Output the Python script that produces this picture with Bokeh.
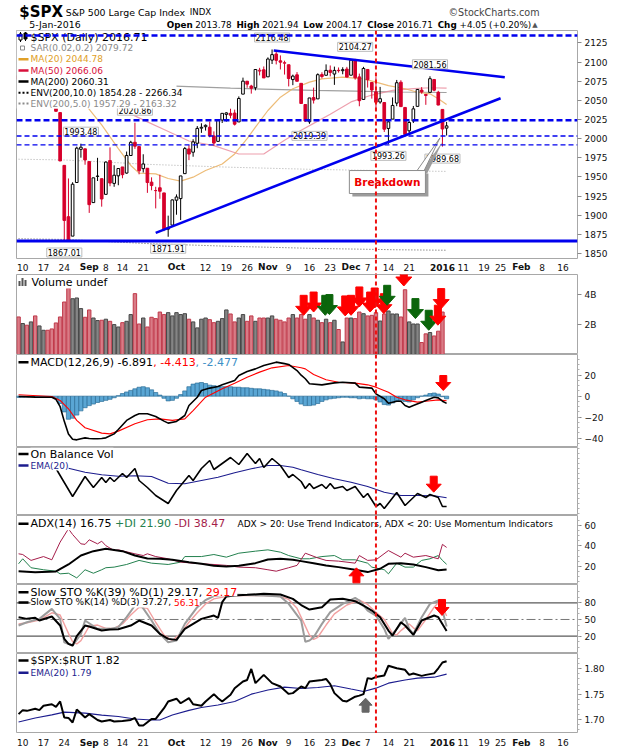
from bokeh.plotting import figure
from bokeh.layouts import column
from bokeh.models import Range1d, FixedTicker, Span, PrintfTickFormatter, ColumnDataSource
from bokeh.embed import file_html
from bokeh.resources import INLINE
from bokeh.core.properties import value

# ---------------------------------------------------------------- data
# trading-day index: 0 = 10-Aug-2015 ... 101 = 4-Jan-2016, 102 = 5-Jan-2016
PREV_CLOSE = 2083.56
day = list(range(-1, 103))
open_ = [2082.61, 2080.98, 2102.66, 2081.10, 2086.19, 2083.15, 2089.70, 2101.99, 2095.69, 2076.61,
         2034.08, 1965.15, 1898.08, 1872.75, 1942.77, 1986.06, 1986.73, 1970.09, 1916.52, 1950.79,
         1947.76, 1927.30, 1971.45, 1941.59, 1951.45, 1963.06, 1955.10, 1978.02, 1995.33, 1989.66,
         1960.84, 1961.39, 1943.24, 1932.24, 1935.93, 1929.18, 1881.90, 1887.14, 1919.65, 1921.77,
         1954.33, 1986.63, 1982.34, 1994.01, 2013.73, 2015.65, 2015.00, 2003.66, 1996.47, 2024.37,
         2031.73, 2033.13, 2033.47, 2021.88, 2058.19, 2075.08, 2068.75, 2066.48, 2088.35, 2090.00,
         2080.76, 2102.63, 2110.60, 2101.68, 2098.60, 2096.56, 2077.19, 2083.41, 2072.29, 2044.64,
         2022.08, 2053.67, 2051.99, 2083.70, 2082.82, 2089.41, 2084.42, 2089.30, 2088.82, 2090.95,
         2082.93, 2101.71, 2080.71, 2051.24, 2090.42, 2073.39, 2061.17, 2047.93, 2047.27, 2013.37,
         2025.55, 2046.50, 2073.76, 2040.81, 2010.27, 2023.15, 2042.20, 2063.52, 2057.77, 2060.54,
         2077.34, 2060.59, 2038.20, 2013.78]
high = [2082.61, 2105.35, 2102.66, 2089.06, 2092.93, 2092.45, 2102.87, 2103.47, 2096.17, 2076.61,
        2034.08, 1965.15, 1948.04, 1943.09, 1989.60, 1993.48, 1986.73, 1970.09, 1948.91, 1975.01,
        1947.76, 1970.42, 1988.63, 1965.29, 1961.05, 1963.06, 1983.19, 1997.26, 2020.86, 1989.66,
        1979.64, 1961.39, 1949.52, 1937.17, 1952.89, 1929.18, 1899.48, 1920.53, 1927.21, 1951.36,
        1989.17, 1991.62, 1999.31, 2016.50, 2020.13, 2018.66, 2022.34, 2009.56, 2024.15, 2033.54,
        2034.45, 2039.12, 2037.97, 2055.20, 2079.74, 2075.14, 2070.37, 2090.35, 2092.52, 2094.32,
        2106.20, 2116.48, 2114.59, 2108.78, 2101.91, 2096.56, 2083.67, 2086.94, 2072.29, 2044.64,
        2053.22, 2066.69, 2085.31, 2086.74, 2097.06, 2095.61, 2094.12, 2093.00, 2093.29, 2093.81,
        2103.37, 2104.27, 2085.00, 2093.84, 2090.42, 2073.85, 2080.33, 2067.65, 2047.27, 2022.92,
        2053.87, 2076.72, 2076.37, 2040.81, 2022.90, 2042.74, 2064.73, 2067.36, 2057.77, 2081.56,
        2077.34, 2062.54, 2038.20, 2021.94]
low = [2067.91, 2080.98, 2076.49, 2052.09, 2078.26, 2080.61, 2079.30, 2094.14, 2070.53, 2035.73,
       1970.89, 1867.01, 1867.08, 1872.75, 1942.77, 1975.19, 1965.98, 1903.07, 1916.52, 1944.72,
       1911.21, 1927.30, 1937.88, 1937.19, 1939.19, 1948.27, 1954.30, 1977.93, 1986.73, 1953.45,
       1955.80, 1929.22, 1932.57, 1908.92, 1921.50, 1879.21, 1871.91, 1887.14, 1900.70, 1893.70,
       1954.33, 1971.99, 1976.44, 1987.53, 2007.61, 2010.55, 2001.78, 1990.73, 1996.47, 2020.46,
       2022.31, 2026.61, 2017.22, 2021.88, 2058.19, 2066.53, 2058.84, 2063.11, 2082.63, 2079.34,
       2080.76, 2097.51, 2096.98, 2090.41, 2083.74, 2068.24, 2069.91, 2074.85, 2045.66, 2022.02,
       2019.39, 2045.90, 2051.99, 2078.76, 2082.82, 2081.39, 2070.29, 2086.30, 2084.13, 2080.41,
       2082.93, 2077.11, 2042.35, 2051.24, 2066.78, 2052.32, 2036.53, 2045.67, 2008.80, 1993.26,
       2025.55, 2042.43, 2041.66, 2005.33, 2005.93, 2020.49, 2042.20, 2058.73, 2044.20, 2060.54,
       2061.97, 2043.62, 1989.68, 2004.17]
close = [2077.57, 2104.18, 2084.07, 2086.05, 2083.39, 2091.54, 2102.44, 2096.92, 2079.61, 2035.73,
         1970.89, 1893.21, 1867.61, 1940.51, 1987.66, 1988.87, 1972.18, 1913.85, 1948.86, 1951.13,
         1921.22, 1969.41, 1942.04, 1952.29, 1961.05, 1953.03, 1978.09, 1995.31, 1990.20, 1958.03,
         1966.97, 1942.74, 1938.76, 1932.24, 1931.34, 1881.77, 1884.09, 1920.03, 1923.82, 1951.36,
         1987.05, 1979.92, 1995.83, 2013.43, 2014.89, 2017.46, 2003.69, 1994.24, 2023.86, 2033.11,
         2033.66, 2030.77, 2018.94, 2052.51, 2075.15, 2071.18, 2065.89, 2090.35, 2089.41, 2079.36,
         2104.05, 2109.79, 2102.31, 2099.93, 2099.20, 2078.58, 2081.72, 2075.00, 2045.97, 2023.04,
         2053.19, 2050.44, 2083.58, 2081.24, 2089.17, 2086.59, 2089.14, 2088.87, 2090.11, 2080.41,
         2102.63, 2079.51, 2049.62, 2091.69, 2077.07, 2063.59, 2047.62, 2052.23, 2012.37, 2021.94,
         2043.41, 2073.07, 2041.89, 2005.55, 2021.15, 2038.97, 2064.29, 2060.99, 2056.50, 2078.36,
         2063.36, 2043.94, 2012.66, 2016.71]

# volume in billions (the 5-Jan value is undefined)
vol_day = list(range(-1, 102))
volume = [2.51, 2.07, 1.96, 2.18, 2.58, 1.91, 1.62, 1.62, 1.71, 2.11,
          2.51, 3.51, 4.44, 3.73, 3.78, 3.07, 2.49, 2.98, 2.44, 2.27,
          2.29, 2.36, 2.22, 2.00, 1.84, 2.13, 2.22, 2.67, 4.07, 2.04,
          2.44, 1.84, 2.49, 2.40, 2.84, 2.67, 2.80, 2.58, 2.80, 2.67,
          2.73, 2.36, 2.18, 1.78, 2.36, 2.44, 2.33, 2.13, 2.22, 2.40,
          2.98, 2.71, 2.18, 2.44, 2.67, 2.22, 2.58, 2.22, 2.44, 2.44,
          2.44, 2.58, 2.36, 2.29, 2.18, 2.44, 2.67,
          2.44, 2.67, 2.36, 2.67, 2.44, 2.29, 2.13, 2.36, 2.13, 2.29,
          1.67, 0.84, 2.44, 2.44, 2.40, 2.84, 2.73, 2.58, 2.62, 2.80,
          2.24, 2.71, 2.91, 2.71, 2.71, 2.51, 4.33, 2.18, 2.04, 2.04,
          0.80, 1.38, 1.47, 1.24, 1.56, 2.84]

ma20_day = [-1, 4, 9, 12, 15, 19, 23, 26, 28, 32, 35, 38, 41, 44, 48, 51, 54, 56, 59, 62, 65, 69,
            72, 77, 82, 85, 88, 92, 95, 98, 100, 102]
ma20_val = [2094, 2090, 2078, 2062, 2045, 2018, 1987, 1965, 1955, 1954, 1948, 1944.5, 1949.7, 1958.4,
            1967, 1980, 2000, 2015, 2036.8, 2054.2, 2065.2, 2073.8, 2078.2, 2080.3, 2078.2, 2073.8,
            2069.4, 2065.2, 2060.7, 2058.6, 2052.1, 2044.8]
ma50_day = [-1, 5, 10, 15, 20, 25, 30, 34, 40, 46, 52, 58, 63, 67, 70, 74, 79, 84, 89, 94, 98, 102]
ma50_val = [2098, 2095, 2090, 2070, 2050, 2035, 2022, 2012, 1997, 1991, 1980, 1980, 1998, 2011, 2020,
            2032, 2048, 2057, 2063, 2065.5, 2066.5, 2066.1]
ma200_day = [-1, 10, 20, 30, 40, 50, 60, 70, 80, 90, 102]
ma200_val = [2077, 2076, 2073, 2070, 2068, 2066, 2064.5, 2063, 2062, 2061, 2060.3]
env5_low = [1973.2, 1972.2, 1969.4, 1966.5, 1964.6, 1962.7, 1961.3, 1959.9, 1958.9, 1958.0, 1957.3]
env10_low = [1869.3, 1868.4, 1865.7, 1863.0, 1861.2, 1859.4, 1858.1, 1856.7, 1855.8, 1854.9, 1854.3]

# drawn annotations on the price chart
h_levels_thick = [2134.7, 2024.0]
h_levels_thin = [2003.5, 1992.0]
support_level = 1866.5
rising_line_day, rising_line_val = [32.0, 115.0], [1877.0, 2052.9]
falling_line_day, falling_line_val = [60.4, 116.0], [2115.2, 2080.3]
high_label_days = [14, 27, 60, 80, 98]
low_label_days = [10, 35, 69, 88, 101]
VLINE_DAY = 85
BD_BOX = [78.6, 96.9, 1928.4, 1958.4]
BD_TIP = [100.4, 2001.0]
BD_BASE = [94.9, 96.6]

macd_day = [-1, 3, 7, 8, 9, 10, 11, 12, 13, 14, 15, 16, 17, 18, 19, 20, 22, 23, 25, 27, 28, 30, 32, 34,
            35, 37, 39, 40, 42, 43, 45, 47, 48, 51, 52, 54, 56, 58, 61, 63, 64, 66, 67, 68, 69, 72, 75,
            77, 80, 81, 84, 85, 87, 88, 90, 91, 92, 93, 94, 96, 97, 99, 100, 101, 102]
macd_val = [-0.3, -0.9, -1.0, -3, -10, -24, -36, -41, -41.6, -40.5, -39.7, -40.3, -40.6, -40.5, -40.3,
            -39.7, -35.9, -31.7, -23.1, -18.4, -16.8, -16.8, -19.4, -23.8, -25.7, -24.1, -18.4, -8.9,
            -1.0, 5.4, 7.7, 9.2, 10.8, 15, 19.7, 23.5, 26, 29.2, 32.4, 31, 30.2, 24.4, 20, 16.6, 11.8,
            10.8, 12.7, 13.3, 12.4, 8.6, 7.7, 2.2, -2.5, -6.7, -4.8, -4.8, -8.9, -10.5, -8.9, -5.7,
            -4.1, -1.0, -1.6, -4.8, -6.9]
sig_day = [-1, 7, 9, 11, 13, 15, 19, 21, 23, 27, 30, 33, 36, 39, 41, 44, 48, 51, 54, 57, 60, 64, 67,
           68, 70, 73, 76, 80, 83, 85, 88, 90, 92, 95, 97, 100, 102]
sig_val = [1.3, -0.3, -4.1, -12, -23.1, -30.1, -35.2, -35.9, -33.3, -26.3, -22.5, -21.6, -23.1, -21.6,
           -13.7, -1.0, 7.0, 12.4, 18.1, 22.9, 27, 29.2, 27, 26, 20.6, 15.6, 13.3, 12.4, 10.8, 8.6,
           3.8, -1.0, -3.5, -5.7, -4.8, -3.5, -4.4]
macd_hist = [-1.2, -1.0, -0.8, -0.6, -0.5, -0.4, -0.3, -0.3, -0.6, -2.5, -7,
             -15, -22, -21, -18, -14, -11, -9, -7.5, -6, -5,
             -4, -3, -1.5, 0.5, 2.5, 4, 5.5, 7, 8.5, 9,
             8, 6, 3.5, 1, -2, -4.5, -4, -2, 1.5, 5,
             9, 11.5, 12.5, 13, 12, 10.5, 10, 9.5, 9, 9,
             9, 8.5, 8.5, 8, 8, 7.5, 7, 7, 6.5, 6,
             5.5, 5, 4, 2.5, 0, -2.5, -5, -7.5, -9, -9,
             -8.5, -7, -5, -3.5, -2.5, -2, -1.5, -1, -1, -1.5,
             -1.5, -2.5, -2, -2.5, -2.5, -3.5, -5.5, -8, -8.5, -6.5,
             -4.5, -4, -5, -5.5, -3.5, -1.5, 0, 1, 2.5, 3,
             2, -0.5, -2.5]

obv_day = [8, 10, 12, 15, 17, 19, 20, 21, 22, 24, 25, 27, 28, 30, 32, 35, 37, 40, 41, 43, 45, 46, 48, 50,
           52, 54, 56, 57, 58, 60, 62, 64, 65, 67, 68, 69, 70, 72, 73, 74, 75, 77, 78, 80, 82, 83, 85,
           86, 87, 90, 92, 95, 97, 98, 100, 101, 102]
obv_val = [47, 33, 19, 39, 28, 38, 33, 38, 34, 42, 38, 47, 35, 28, 20, 12, 25, 40, 35, 47, 55, 46, 52, 58,
           51, 62, 52, 57, 48, 57, 50, 38, 41, 34, 27, 32, 27, 31, 27, 32, 27, 29, 25, 29, 18, 22, 9,
           12, 7, 23, 10, 22, 18, 21, 18, 9, 9]
obv_ema_day = [10, 15, 19, 23, 27, 31, 35, 39, 43, 47, 51, 55, 59, 62, 65, 67, 71, 75, 79, 83, 87, 91,
               95, 99, 102]
obv_ema_val = [48.3, 43.3, 40.7, 39.3, 39.7, 39, 32.3, 31.7, 35, 38.3, 42.7, 46.7, 50, 50, 48.3, 45.7,
               41, 36.7, 33.3, 29, 23.3, 20, 20, 19.7, 17.7]

adx_day = [-1, 3, 8, 11, 14, 17, 20, 24, 27, 30, 33, 36, 40, 43, 46, 49, 52, 56, 59, 62, 65, 67, 70,
           73, 76, 80, 83, 86, 88, 91, 94, 97, 100, 102]
adx_val = [15.1, 14.1, 14.8, 21.7, 30.5, 34.8, 37.1, 34.8, 30.5, 27.6, 27.3, 26.3, 24, 22.4, 20.4, 19.8,
           20.4, 23, 26.6, 27.3, 26.3, 25, 23, 20.8, 19.1, 16.5, 14.2, 17.5, 22.4, 23, 21.7, 19.1,
           16.0, 16.8]
pdi_day = [-1, 0, 2, 5, 8, 9, 11, 13, 15, 17, 19, 20, 22, 25, 28, 31, 35, 38, 39, 43, 46, 49, 52, 56,
           59, 62, 64, 67, 69, 72, 75, 77, 80, 83, 84, 87, 88, 90, 92, 94, 96, 98, 100, 101, 102]
pdi_val = [22.4, 27.3, 18.5, 16.5, 15.1, 12.5, 13.1, 8.5, 16.5, 13.1, 16.5, 18.5, 19.1, 21.7, 25.7, 23,
           21.7, 24, 29.5, 29.5, 31.5, 28.9, 32.8, 34.8, 36.1, 33.8, 30.5, 27.3, 27.3, 29.5, 30.5,
           26.3, 26.3, 23, 19.1, 16.5, 12.5, 23, 19.1, 19.1, 25.7, 27.3, 30.5, 25.7, 21.9]
mdi_day = [-1, 0, 2, 5, 7, 9, 11, 12, 14, 15, 16, 18, 19, 20, 22, 23, 27, 29, 30, 32, 35, 38, 43, 46,
           49, 52, 56, 59, 61, 64, 66, 68, 71, 73, 76, 80, 81, 83, 85, 88, 91, 92, 94, 97, 100, 101, 102]
mdi_val = [32.2, 31.5, 25.7, 29.5, 26.3, 43.7, 56.8, 51.2, 42, 41.5, 46, 42, 44.6, 40.2, 35.4, 36.1,
           32.2, 30.5, 32.2, 29.5, 27.3, 24, 22.4, 21.7, 20.8, 19.1, 18.5, 16.5, 15.1, 18.5, 20.8,
           32.8, 28.2, 25.7, 25, 23, 30.5, 25.7, 26.3, 35.4, 28.9, 32.8, 28.9, 30.5, 27.3, 41.5, 38.5]

sto39_day = [-1, 1, 3, 4, 7, 9, 10, 11, 12, 13, 15, 16, 19, 21, 23, 26, 28, 31, 33, 35, 37, 39, 43, 46,
             47, 48, 49, 51, 54, 58, 62, 65, 67, 69, 72, 74, 77, 80, 82, 84, 86, 88, 89, 91, 92, 94,
             96, 99, 100, 102]
sto39_val = [54.1, 51.1, 52.9, 48.1, 55.3, 39.1, 15, 6.1, 3.1, 20, 39.1, 37.3, 30.1, 31.9, 32.5, 39.1,
             48.1, 39.1, 24.1, 15.1, 13.3, 33.1, 51.1, 57.1, 52.9, 81.1, 91.3, 93, 94.3, 96.1, 94.9,
             87.1, 76, 67.9, 72.1, 85.9, 87.1, 82.9, 75.1, 66.1, 54.1, 30.1, 21.1, 45.1, 39.1, 22.3,
             48.1, 57.1, 54.1, 29.2]
sto14k_day = [-1, 1, 4, 7, 9, 10, 12, 14, 15, 18, 21, 23, 25, 27, 28, 29, 31, 33, 35, 37, 39, 42, 44,
              46, 50, 54, 58, 62, 64, 67, 68, 69, 70, 72, 74, 77, 80, 81, 83, 85, 87, 88, 90, 92, 93,
              94, 96, 98, 100, 101, 102]
sto14k_val = [39.1, 45.1, 51.1, 69.1, 51.1, 9.1, 3.1, 24.1, 48.1, 33.1, 33.1, 36.1, 54.1, 75.1, 79, 70,
              48.1, 24.1, 9.1, 12.1, 42.1, 72.1, 85, 92, 95, 94, 93, 91.3, 78.1, 48.1, 10, 12.1, 18.1,
              42.1, 63.1, 78.1, 88.9, 84.1, 66.1, 57.1, 33.1, 15.1, 33.1, 52.9, 33.1, 24.1, 54.1,
              78.1, 84.1, 66.1, 37.3]
sto14d_day = [-1, 1, 4, 7, 9, 11, 12, 13, 14, 16, 18, 20, 22, 24, 26, 28, 30, 32, 34, 36, 38, 40, 42,
              44, 46, 50, 58, 62, 64, 66, 68, 69, 70, 71, 73, 75, 78, 81, 83, 85, 87, 89, 90, 91, 93,
              94, 95, 97, 99, 100, 101, 102]
sto14d_val = [42, 44, 49, 62, 58, 25, 10, 6, 12, 38, 40, 34, 34, 42, 58, 72, 70, 45, 22, 12, 25, 45, 62,
              78, 87, 93, 93, 91, 86, 70, 38, 22, 14, 18, 40, 60, 76, 85, 77, 63, 50, 25, 22, 30, 42,
              35, 30, 50, 72, 80, 74, 56.3]
sto_levels = [20, 80]
sto_mid = 50

rut_day = [-1, 0, 1, 3, 4, 5, 7, 8, 9, 10, 11, 12, 13, 15, 16, 18, 19, 21, 22, 24, 26, 27, 28, 29, 31,
           32, 34, 35, 37, 38, 40, 41, 43, 44, 46, 47, 48, 50, 51, 53, 54, 55, 56, 58, 60, 62, 64, 65,
           67, 68, 69, 72, 73, 74, 75, 77, 78, 80, 81, 82, 83, 84, 85, 87, 88, 90, 92, 93, 94, 96, 97,
           99, 100, 101, 102]
rut_val = [1.7105, 1.7184, 1.717, 1.721, 1.7184, 1.727, 1.730, 1.725, 1.7355, 1.704, 1.703, 1.694,
           1.7197, 1.704, 1.7105, 1.699, 1.696, 1.699, 1.696, 1.697, 1.699, 1.703, 1.688, 1.688, 1.701,
           1.701, 1.7223, 1.7355, 1.741, 1.732, 1.742, 1.730, 1.727, 1.7355, 1.750, 1.742, 1.7355,
           1.7486, 1.7618, 1.775, 1.778, 1.7997, 1.7717, 1.788, 1.7717, 1.765, 1.7505, 1.752, 1.765,
           1.7618, 1.775, 1.778, 1.780, 1.7697, 1.752, 1.737, 1.7355, 1.745, 1.747, 1.750, 1.7816,
           1.780, 1.784, 1.7868, 1.806, 1.801, 1.798, 1.788, 1.7908, 1.786, 1.788, 1.791, 1.801,
           1.8125, 1.815]
rut_ema_day = [-1, 3, 7, 10, 15, 19, 23, 27, 31, 33, 36, 40, 43, 47, 51, 55, 59, 63, 67, 71, 75, 79, 82,
               85, 88, 92, 95, 99, 102]
rut_ema_val = [1.695, 1.703, 1.709, 1.7145, 1.7125, 1.7085, 1.706, 1.701, 1.699, 1.699, 1.709, 1.718,
               1.7235, 1.7287, 1.7355, 1.750, 1.758, 1.7638, 1.761, 1.763, 1.7666, 1.760, 1.7553,
               1.7618, 1.7717, 1.778, 1.7816, 1.7835, 1.7895]

# hand-drawn arrows
vol_arrow_day = [67.6, 70.0, 72.8, 73.8, 77.6, 79.0, 81.0, 83.6, 84.7, 86.9, 87.7, 91.7, 94.5, 97.7, 99.9, 100.7]
vol_arrow_tip = [2.62, 2.84, 2.62, 2.67, 2.58, 2.62, 3.18, 2.84, 3.11, 2.73, 3.29, 4.58, 2.40, 1.62, 1.96, 3.07]
vol_arrow_kind = ["r", "r", "g", "g", "r", "r", "r", "r", "r", "r", "g", "r", "g", "g", "r", "r"]
macd_arrow = (101.2, 5.4)
obv_arrow = (98.9, 23.3)
adx_arrow = (80.3, 18.4)
sto_arrow = (100.9, 57.2)
rut_arrow = (82.5, 1.742)

tick_day = [0, 5, 10, 16, 20, 24, 29, 37, 44, 49, 54, 59, 64, 69, 74, 79, 83, 88, 93, 101, 106, 111, 115,
            120, 125, 130]
tick_text = ["10", "17", "24", "Sep", "8", "14", "21", "Oct", "12", "19", "26", "Nov", "9", "16", "23",
             "Dec", "7", "14", "21", "2016", "11", "19", "25", "Feb", "8", "16"]
MONTHS = ("Sep", "Oct", "Nov", "Dec", "2016", "Feb")

# ---------------------------------------------------------------- layout helpers
W, FL, FR = 620, 16, 43
FW = W - FL - FR
X0, X1 = -1.5, 133.5
UX = (X1 - X0) / FW
xr = Range1d(X0, X1)
FONT = "DejaVu Sans"
RED = "#d6002b"
BLUE = "#0000ee"
NAVY = "#1c1c8e"
ARED = "#ff0000"
AGREEN = "#0b650b"

DJ = {' ': .318, '.': .318, ',': .318, '(': .390, ')': .390, '-': .361, '+': .838, '%': .950, ':': .337,
      '$': .636, '>': .838, '<': .838, '&': .780}
for ch, w in zip("ABCDEFGHIJKLMNOPQRSTUVWXYZ",
                 [.684, .686, .698, .770, .632, .575, .775, .752, .295, .295, .656, .557, .863, .748, .787,
                  .603, .787, .695, .635, .611, .732, .684, .989, .685, .611, .685]):
    DJ[ch] = w
for ch, w in zip("abcdefghijklmnopqrstuvwxyz",
                 [.613, .635, .550, .635, .615, .352, .635, .634, .278, .278, .579, .278, .974, .634, .612,
                  .635, .635, .411, .521, .392, .634, .592, .818, .592, .592, .525]):
    DJ[ch] = w
for ch in "0123456789":
    DJ[ch] = .636
DJB = {"Open": 2.956, "High": 2.609, "Low": 2.248, "Close": 3.037, "Chg": 2.162, "$SPX": 2.923}
HDR_K = 1.06  # safety factor for header text widths


def tw(s, size):
    return sum(DJ.get(c, .62) for c in s) * size


def xd(px_abs):
    return X0 + (px_abs - FL) * UX


def yd(info, py):
    return info["y1"] - py * (info["y1"] - info["y0"]) / info["h"]


def uy(info):
    return (info["y1"] - info["y0"]) / info["h"]


def make_panel(h, y0, y1, ticks, minor=(), show_labels=True, formatter=None, overrides=None):
    p = figure(width=W, height=h, x_range=xr, y_range=Range1d(y0, y1), x_axis_location=None,
               y_axis_location="right", toolbar_location=None, output_backend="svg",
               min_border_left=FL, min_border_right=FR, min_border_top=0, min_border_bottom=0)
    p.grid.visible = False
    p.outline_line_color = "#a8a8a8"
    p.border_fill_color = "white"
    ax = p.yaxis[0]
    ax.ticker = FixedTicker(ticks=list(ticks), minor_ticks=list(minor))
    ax.axis_line_color = None
    ax.major_tick_line_color = "#8a8a8a"
    ax.major_tick_in = 0
    ax.major_tick_out = 4
    ax.minor_tick_line_color = "#b0b0b0"
    ax.minor_tick_in = 0
    ax.minor_tick_out = 2
    ax.major_label_text_font = FONT
    ax.major_label_text_font_size = "9px"
    ax.major_label_text_color = "#111111"
    ax.major_label_standoff = 3
    if formatter is not None:
        ax.formatter = formatter
    if overrides:
        ax.major_label_overrides = overrides
    if not show_labels:
        ax.major_label_text_alpha = 0
    return p, dict(y0=y0, y1=y1, h=h)


def vline(p):
    p.add_layout(Span(location=VLINE_DAY, dimension="height", line_color="#ee1111",
                      line_dash="4 3", line_width=2))


def txt(p, x, y, s, size, color="black", bold=False, align="left", bg=None, border=None, font=FONT):
    kw = {}
    if bg:
        kw["background_fill_color"] = bg
    if border:
        kw["border_line_color"] = border
        kw["padding"] = 1
    p.text(x=[x], y=[y], text=[s], text_font=value(font), text_font_size=f"{size}px",
           text_color=color, text_font_style="bold" if bold else "normal",
           text_align=align, text_baseline="middle", **kw)


def legend_row(p, info, py, parts, size, icon_color=None, icon_width=2.5, icon_dash="solid", x0=30):
    yv = yd(info, py)
    x = x0
    for s, c in parts:
        txt(p, xd(x), yv, s, size, c, bg="white")
        x += tw(s, size)
    if icon_color:
        p.segment(x0=[xd(18)], y0=[yv], x1=[xd(28)], y1=[yv], line_color=icon_color,
                  line_width=icon_width, line_dash=icon_dash)


def arrows(p, info, xs, ys, colors, up=False, tot=16, head=8, hw=7.5, sw=3.5):
    u = uy(info)
    sgn = -1 if up else 1
    shape = [(0, 0), (-hw, head), (-sw, head), (-sw, tot), (sw, tot), (sw, head), (hw, head)]
    px, py = [], []
    for x, y in zip(xs, ys):
        px.append([x + a * UX for a, b in shape])
        py.append([y + sgn * b * u for a, b in shape])
    p.patches(px, py, fill_color=colors, line_color=colors, line_width=1)


figs = []

# ---------------------------------------------------------------- header
hdr = figure(width=W, height=30, x_range=Range1d(0, W), y_range=Range1d(30, 0), x_axis_location=None,
             y_axis_location=None, toolbar_location=None, output_backend="svg", min_border=0)
hdr.grid.visible = False
hdr.outline_line_color = None
txt(hdr, 3, 11, "$SPX", 15, bold=True)
title_txt = "S&P 500 Large Cap Index"
tx = 3 + DJB["$SPX"] * 15 * HDR_K + 5
txt(hdr, tx, 11.5, title_txt, 9.4)
txt(hdr, tx + tw(title_txt, 9.4) * HDR_K + 10, 11.5, "INDX", 8.6)
txt(hdr, 578, 11.5, "\u00a9StockCharts.com", 9.6, color="#444444", align="right")
txt(hdr, 14, 24, "5-Jan-2016", 9.4)
HS = 8.8
right_parts = [("Open", True, 4), ("2013.78", False, 7), ("High", True, 4), ("2021.94", False, 7),
               ("Low", True, 4), ("2004.17", False, 7), ("Close", True, 4), ("2016.71", False, 7),
               ("Chg", True, 4), ("+4.05", False, 4), ("(+0.20%)", False, 3)]
xpos = 166
for s, b, gap in right_parts:
    w = (DJB[s] if b else tw(s, 1)) * HS * HDR_K
    txt(hdr, xpos, 24, s, HS, bold=b)
    xpos += w + gap
txt(hdr, xpos, 24, "\u25b2", 7, color="#555555")
figs.append(hdr)

# ---------------------------------------------------------------- price panel
pp, PI = make_panel(229, 1842.2, 2141.3, range(1850, 2126, 25))
prev = [PREV_CLOSE] + close[:-1]
ccol = [RED if c < pc else "black" for c, pc in zip(close, prev)]
cfill = ["white" if c > o else cc for c, o, cc in zip(close, open_, ccol)]
src = ColumnDataSource(dict(day=day, h=high, l=low, top=[max(o, c) for o, c in zip(open_, close)],
                            bot=[min(o, c) for o, c in zip(open_, close)], col=ccol, fill=cfill))
pp.line(ma200_day, env10_low, line_color="#555555", line_dash="1 2", line_width=1)
pp.line(ma200_day, env5_low, line_color="#aaaaaa", line_dash="1 2", line_width=1)
pp.line(ma200_day, ma200_val, line_color="#a0a0a0", line_width=1.2)
pp.line(ma50_day, ma50_val, line_color="#e8889a", line_width=1.2, line_alpha=0.8)
pp.line(ma20_day, ma20_val, line_color="#eab060", line_width=1.2, line_alpha=0.85)
pp.segment(x0="day", y0="l", x1="day", y1="h", line_color="col", line_width=1, source=src)
pp.vbar(x="day", width=0.64, top="top", bottom="bot", fill_color="fill", line_color="col",
        line_width=1, source=src)
pp.line(rising_line_day, rising_line_val, line_color=BLUE, line_width=2.6)
pp.line(falling_line_day, falling_line_val, line_color=BLUE, line_width=2.6)
for lv in h_levels_thick:
    pp.add_layout(Span(location=lv, dimension="width", line_color=BLUE, line_dash="6 3", line_width=2.4))
for lv in h_levels_thin:
    pp.add_layout(Span(location=lv, dimension="width", line_color=BLUE, line_dash="5 3", line_width=1.3))
pp.add_layout(Span(location=support_level, dimension="width", line_color=BLUE, line_width=3))
vline(pp)
# legend block
pp.quad(left=[X0], right=[xd(176)], bottom=[yd(PI, 78)], top=[PI["y1"]], fill_color="white",
        line_color=None)
u = uy(PI)
for d in high_label_days:
    txt(pp, d, high[d + 1] + 12 * u, f"{high[d + 1]:.2f}", 8, align="center", bg="white", border="#bcbcbc")
for d in low_label_days:
    txt(pp, d, low[d + 1] - 12 * u, f"{low[d + 1]:.2f}", 8, align="center", bg="white", border="#bcbcbc")
# breakdown callout
sx, sy = 3 * UX, -3 * u
L, R, B, T = BD_BOX
pp.patch([BD_BASE[0] + sx, BD_TIP[0] + sx, BD_BASE[1] + sx], [T + sy, BD_TIP[1] + sy, T + sy],
         fill_color="#9c9c9c", line_color=None)
pp.quad(left=[L + sx], right=[R + sx], bottom=[B + sy], top=[T + sy], fill_color="#9c9c9c", line_color=None)
pp.patch([BD_BASE[0], BD_TIP[0], BD_BASE[1]], [T, BD_TIP[1], T], fill_color="white", line_color="#8c8c8c")
pp.quad(left=[L], right=[R], bottom=[B], top=[T], fill_color="white", line_color="#8c8c8c")
txt(pp, (L + R) / 2, (B + T) / 2, "Breakdown", 10.5, color="#ee0000", bold=True, align="center")
# legend rows
rows = [6.5, 17.5, 28.8, 40, 51, 62.2, 73]
legend_row(pp, PI, rows[0], [("$SPX (Daily) 2016.71", "black")], 11)
cy = yd(PI, rows[0])
pp.segment(x0=[xd(20)], y0=[cy - 5 * u], x1=[xd(20)], y1=[cy + 5 * u], line_color="black")
pp.vbar(x=[xd(20)], width=3 * UX, top=[cy + 3 * u], bottom=[cy - 3 * u], fill_color="white", line_color="black")
pp.segment(x0=[xd(25)], y0=[cy - 4 * u], x1=[xd(25)], y1=[cy + 5 * u], line_color="black")
pp.vbar(x=[xd(25)], width=3 * UX, top=[cy + 4 * u], bottom=[cy - 2 * u], fill_color="black", line_color="black")
legend_row(pp, PI, rows[1], [("SAR(0.02,0.2) 2079.72", "#8a8a8a")], 9)
pp.scatter([xd(22)], [yd(PI, rows[1])], marker="square", size=4, fill_color="white", line_color="#8a8a8a")
legend_row(pp, PI, rows[2], [("MA(20) 2044.78", "#e0a028")], 9, icon_color="#e0a028")
legend_row(pp, PI, rows[3], [("MA(50) 2066.06", "#d8103c")], 9, icon_color="#d8103c")
legend_row(pp, PI, rows[4], [("MA(200) 2060.31", "black")], 9, icon_color="black")
legend_row(pp, PI, rows[5], [("ENV(200,10.0) 1854.28 - 2266.34", "black")], 9, icon_color="black",
           icon_width=2, icon_dash="2 2")
legend_row(pp, PI, rows[6], [("ENV(200,5.0) 1957.29 - 2163.32", "#8a8a8a")], 9, icon_color="#8a8a8a",
           icon_width=2, icon_dash="2 2")
figs.append(pp)


# ---------------------------------------------------------------- date strips
def date_strip(h, with_line):
    s = figure(width=W, height=h, x_range=xr, y_range=Range1d(0, 1), x_axis_location=None,
               y_axis_location=None, toolbar_location=None, output_backend="svg",
               min_border_left=FL, min_border_right=FR, min_border_top=0, min_border_bottom=0)
    s.grid.visible = False
    s.outline_line_color = None
    nd = [d for d, t in zip(tick_day, tick_text) if t not in MONTHS]
    nt = [t for t in tick_text if t not in MONTHS]
    bd = [d for d, t in zip(tick_day, tick_text) if t in MONTHS]
    bt = [t for t in tick_text if t in MONTHS]
    s.text(x=nd, y=[0.47] * len(nd), text=nt, text_font=value(FONT), text_font_size="9px",
           text_align="center", text_baseline="middle", text_color="#111111")
    s.text(x=bd, y=[0.47] * len(bd), text=bt, text_font=value(FONT), text_font_size="9px",
           text_font_style="bold", text_align="center", text_baseline="middle", text_color="#111111")
    if with_line:
        vline(s)
    return s


figs.append(date_strip(15, True))

# ---------------------------------------------------------------- volume
pv, VI = make_panel(80, 0, 5.35, [2, 4], overrides={2: "2B", 4: "4B"})
vprev = prev[:len(volume)]
vclose = close[:len(volume)]
vdown = [c < pc for c, pc in zip(vclose, vprev)]
vsrc = ColumnDataSource(dict(day=vol_day, v=volume,
                             fill=["#d97b86" if d else "#858585" for d in vdown],
                             line=["#c0394a" if d else "#474747" for d in vdown]))
pv.vbar(x="day", top="v", bottom=0, width=0.82, fill_color="fill", line_color="line", line_width=1,
        source=vsrc)
arrows(pv, VI, vol_arrow_day, vol_arrow_tip, [ARED if k == "r" else AGREEN for k in vol_arrow_kind],
       tot=20, head=9, hw=8, sw=3.5)
vline(pv)
yv = yd(VI, 7.5)
for k, hgt in enumerate([5, 8, 6]):
    pv.quad(left=[xd(18 + 3 * k)], right=[xd(20 + 3 * k)], bottom=[yv - 4 * uy(VI)],
            top=[yv - 4 * uy(VI) + hgt * uy(VI)], fill_color="#555555", line_color=None)
legend_row(pv, VI, 7.5, [("Volume undef", "black")], 11, x0=31)
figs.append(pv)

# ---------------------------------------------------------------- MACD
pm, MI = make_panel(93, -48.9, 39.7, [-40, -20, 0, 20], minor=range(-45, 40, 5))
pm.vbar(x=day, top=macd_hist, bottom=0, width=1.0, fill_color="#5aa6d4", line_color="#2d6f98",
        line_width=0.7)
pm.line(sig_day, sig_val, line_color="#ff0000", line_width=1.1)
pm.line(macd_day, macd_val, line_color="black", line_width=1.6)
arrows(pm, MI, [macd_arrow[0]], [macd_arrow[1]], [ARED], tot=15, head=8, hw=7.5, sw=3.5)
vline(pm)
legend_row(pm, MI, 7.7, [("MACD(12,26,9) -6.891", "black"), (", -4.413", "#ff0000"),
                         (", -2.477", "#3d8fc6")], 11, icon_color="black")
figs.append(pm)

# ---------------------------------------------------------------- OBV
po, OI = make_panel(68, 0, 68, [], minor=range(2, 68, 5), show_labels=False)
po.line(obv_ema_day, obv_ema_val, line_color=NAVY, line_width=1.1)
po.line(obv_day, obv_val, line_color="black", line_width=1.6)
arrows(po, OI, [obv_arrow[0]], [obv_arrow[1]], [ARED], tot=16, head=8, hw=7.5, sw=3.5)
vline(po)
legend_row(po, OI, 6.5, [("On Balance Vol", "black")], 11, icon_color="black")
legend_row(po, OI, 18, [("EMA(20)", NAVY)], 9, icon_color=NAVY)
figs.append(po)

# ---------------------------------------------------------------- ADX
pa, AI = make_panel(69, 2.0, 69.9, [20, 40, 60], minor=range(5, 70, 5))
pa.line(pdi_day, pdi_val, line_color="#23804e", line_width=1)
pa.line(mdi_day, mdi_val, line_color="#a51d4a", line_width=1)
pa.line(adx_day, adx_val, line_color="black", line_width=2)
arrows(pa, AI, [adx_arrow[0]], [adx_arrow[1]], [ARED], up=True, tot=15, head=8, hw=7.5, sw=3.5)
vline(pa)
legend_row(pa, AI, 8.3, [("ADX(14) 16.75 ", "black"), ("+DI 21.90 ", "#23804e"), ("-DI 38.47", "#a51d4a")],
           11, icon_color="black")
txt(pa, xd(237), yd(AI, 8.3), "ADX > 20: Use Trend Indicators, ADX < 20: Use Momentum Indicators", 9,
    bg="white")
figs.append(pa)

# ---------------------------------------------------------------- Slow STO
ps, SI = make_panel(69, -11.2, 112.9, [20, 50, 80], minor=range(0, 110, 10))
ps.segment(x0=[X0, X0], y0=sto_levels, x1=[X1, X1], y1=sto_levels, line_color="#5a5a5a", line_width=1.3)
ps.segment(x0=[X0], y0=[sto_mid], x1=[X1], y1=[sto_mid], line_color="#777777", line_width=1,
           line_dash="9 3 2 3")
ps.line(sto14d_day, sto14d_val, line_color="#f2a0a0", line_width=1.4)
ps.line(sto14k_day, sto14k_val, line_color="#9c9c9c", line_width=2)
ps.line(sto39_day, sto39_val, line_color="black", line_width=2)
arrows(ps, SI, [sto_arrow[0]], [sto_arrow[1]], [ARED], tot=16, head=8, hw=7, sw=3.5)
vline(ps)
legend_row(ps, SI, 7.7, [("Slow STO %K(39) %D(1) 29.17, ", "black"), ("29.17", "#ff0000")], 11,
           icon_color="black")
legend_row(ps, SI, 17.9, [("Slow STO %K(14) %D(3) 37.27, ", "black"), ("56.31", "#ff0000")], 9,
           icon_color="black")
figs.append(ps)

# ---------------------------------------------------------------- SPX:RUT
pr, RI = make_panel(80, 1.6723, 1.8302, [1.70, 1.75, 1.80], minor=[1.68 + 0.01 * k for k in range(15)],
                    formatter=PrintfTickFormatter(format="%.2f"))
pr.line(rut_ema_day, rut_ema_val, line_color=NAVY, line_width=1.1)
pr.line(rut_day, rut_val, line_color="black", line_width=2)
arrows(pr, RI, [rut_arrow[0]], [rut_arrow[1]], ["#666666"], up=True, tot=14, head=7, hw=6.5, sw=3.5)
vline(pr)
legend_row(pr, RI, 7, [("$SPX:$RUT 1.82", "black")], 11, icon_color="black")
legend_row(pr, RI, 19.3, [("EMA(20) 1.79", NAVY)], 9, icon_color=NAVY)
figs.append(pr)

figs.append(date_strip(17, False))

layout = column(*figs, spacing=0)
open("out.html", "w").write(file_html(layout, INLINE, "SPX"))
